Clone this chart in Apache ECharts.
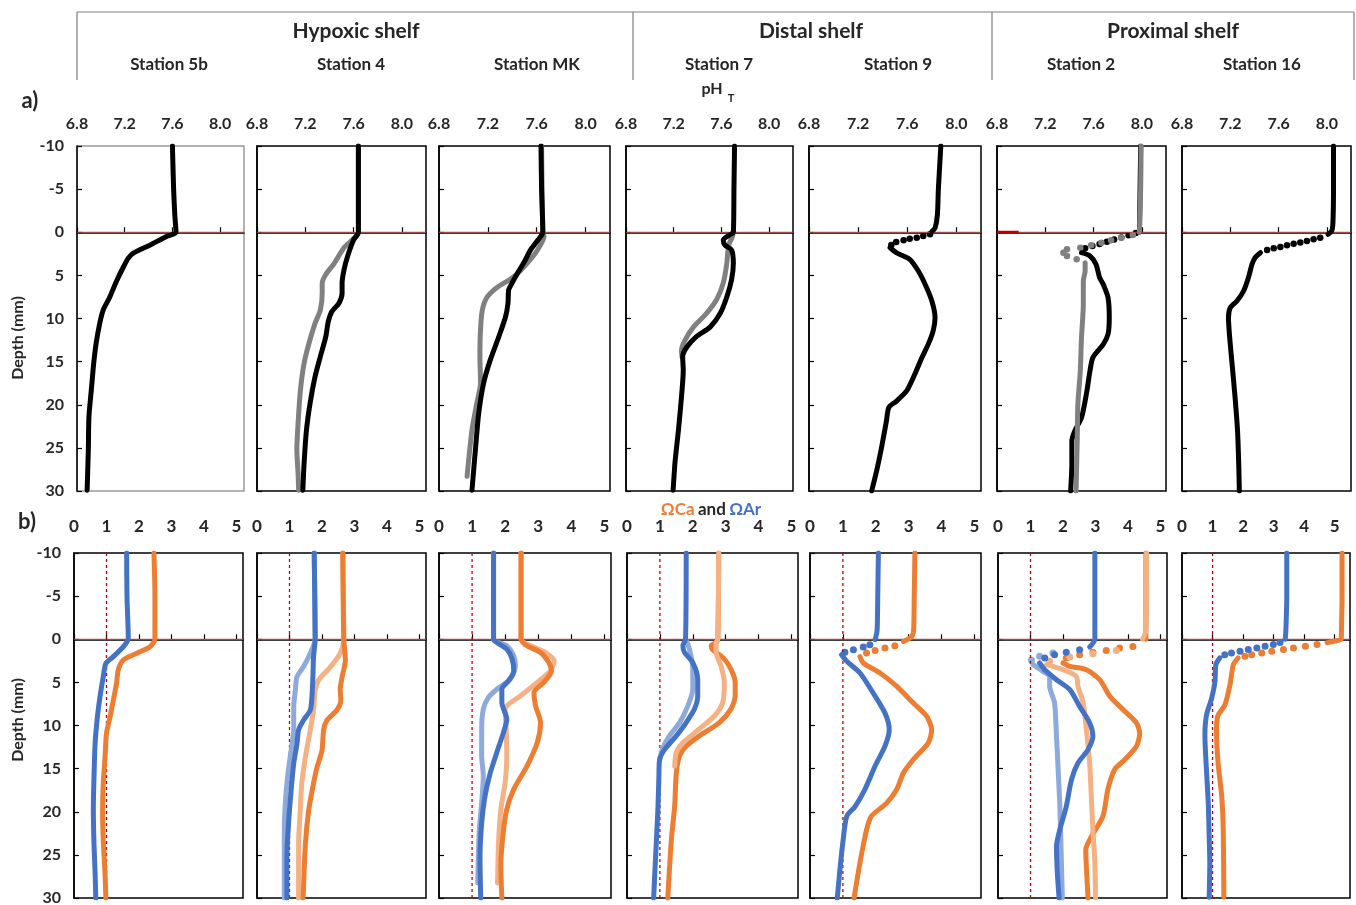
<!DOCTYPE html>
<html>
<head>
<meta charset="utf-8">
<script src="https://cdn.jsdelivr.net/npm/echarts/dist/echarts.min.js"></script>
<style>
html,body{margin:0;padding:0;background:#fff}
#chart{width:1356px;height:905px}
</style>
</head>
<body>
<div id="chart"></div>
<script>
// ---------- station labels ----------
const regions = ['Hypoxic shelf', 'Distal shelf', 'Proximal shelf'];
const stations = ['Station 5b', 'Station 4', 'Station MK', 'Station 7', 'Station 9', 'Station 2', 'Station 16'];

// ---------- axis ranges ----------
const phRange = [6.8, 8.2];
const phStep = 0.4;
const omegaMin = 0;
const omegaMax = [5.2, 5.2, 5.2, 5.2, 5.2, 5.2, 5.5];
const omegaStep = 1;
const depthRange = [-10, 30];
const depthStep = 5;
const SURFACE_DEPTH = 0;      // sediment-water interface
const OMEGA_SATURATION = 1;   // saturation threshold

// ---------- pH_T profiles: [pH, depth mm] ----------
const ph5b = [[7.60,-10],[7.61,-5],[7.62,-2],[7.63,0],[7.55,0.5],[7.41,1.5],[7.27,2.45],[7.23,3.0],[7.19,4.0],[7.13,5.7],[7.075,7.5],[7.02,9.0],[6.99,10.6],[6.96,12.9],[6.94,15.2],[6.92,18.3],[6.90,21.4],[6.895,25.2],[6.885,29.9]];

const ph4 = [[7.64,-10],[7.64,-5],[7.64,0],[7.60,0.9],[7.55,2.8],[7.52,4.4],[7.505,5.9],[7.505,7.05],[7.48,8.2],[7.42,9.2],[7.39,10.4],[7.37,12.1],[7.325,14.4],[7.28,16.8],[7.24,19.8],[7.21,22.9],[7.19,26.8],[7.18,29.9]];
const ph4Rep = [[7.64,-10],[7.64,0],[7.58,1.0],[7.52,1.8],[7.44,3.6],[7.37,4.9],[7.34,5.9],[7.34,7.05],[7.325,9.0],[7.28,10.6],[7.23,12.9],[7.19,15.2],[7.16,18.3],[7.14,22.2],[7.13,25.2],[7.14,27.9],[7.145,29.9]];

const phMK = [[7.635,-10],[7.64,-5],[7.65,0],[7.61,0.9],[7.55,2.05],[7.50,3.4],[7.44,4.8],[7.39,6.1],[7.37,6.7],[7.365,8.2],[7.345,9.8],[7.29,12.1],[7.22,14.8],[7.165,17.5],[7.125,21.0],[7.10,24.9],[7.07,29.9]];
const phMKRep = [[7.64,-10],[7.65,0],[7.66,0.5],[7.63,1.5],[7.58,2.6],[7.47,4.4],[7.39,5.4],[7.28,6.35],[7.195,7.5],[7.155,9.0],[7.14,11.3],[7.135,14.4],[7.14,17.5],[7.11,19.8],[7.07,22.9],[7.04,26.8],[7.03,28.3]];

const ph7 = [[7.71,-10],[7.705,-5],[7.70,0],[7.67,0.3],[7.615,0.9],[7.63,1.5],[7.685,2.05],[7.70,3.6],[7.685,5.5],[7.645,7.5],[7.59,9.4],[7.505,11.0],[7.39,12.1],[7.31,13.3],[7.275,14.4],[7.28,16.0],[7.265,19.1],[7.24,22.9],[7.21,26.8],[7.195,29.9]];
const ph7Rep = [[7.70,0],[7.69,0.6],[7.66,1.5],[7.645,3.6],[7.615,5.9],[7.56,7.8],[7.475,9.4],[7.365,11.0],[7.295,12.5],[7.265,13.7],[7.27,14.5]];

const ph9Top = [[7.873,-10],[7.853,-5],[7.845,-2],[7.826,-0.5],[7.80,-0.1]];
const ph9Dots = [[7.785,0.24],[7.73,0.43],[7.677,0.63],[7.62,0.75],[7.57,0.94],[7.51,1.13],[7.47,1.48]];
const ph9Deep = [[7.46,1.79],[7.51,2.37],[7.62,3.14],[7.69,4.5],[7.745,6.03],[7.80,7.97],[7.826,9.9],[7.81,11.45],[7.77,13.0],[7.72,14.5],[7.66,16.5],[7.595,18.4],[7.51,19.6],[7.45,20.3],[7.43,21.9],[7.39,25.0],[7.35,27.7],[7.31,30.0]];

const ph2Top = [[7.99,-10],[7.98,0]];
const ph2Dots = [[7.95,0.1],[7.89,0.35],[7.83,0.6],[7.77,0.85],[7.71,1.1],[7.65,1.35],[7.59,1.6],[7.53,1.85]];
const ph2Deep = [[7.50,2.37],[7.57,2.75],[7.62,3.7],[7.65,5.27],[7.68,6.04],[7.72,7.59],[7.73,9.9],[7.72,11.8],[7.68,13.0],[7.595,14.5],[7.57,16.1],[7.54,18.8],[7.50,21.5],[7.445,23.0],[7.42,24.2],[7.42,26.9],[7.41,30]];
const ph2RepTop = [[7.994,-10],[7.99,-5],[7.98,0]];
const ph2RepDots = [[7.925,0.32],[7.83,0.63],[7.745,0.94],[7.665,1.21],[7.58,1.52],[7.49,1.79],[7.38,1.98],[7.35,2.37],[7.38,2.75],[7.46,3.14]];
const ph2RepDeep = [[7.53,3.53],[7.53,4.5],[7.515,5.65],[7.515,8.35],[7.50,12.2],[7.49,16.1],[7.47,19.9],[7.465,23.8],[7.455,30]];
const ph2Mark = [[6.8,0],[6.98,0]];

const ph16Top = [[8.055,-10],[8.055,-5],[8.05,-1],[8.04,-0.14],[8.01,0.24]];
const ph16Dots = [[7.945,0.63],[7.89,0.82],[7.835,1.01],[7.78,1.2],[7.725,1.32],[7.67,1.52],[7.615,1.7],[7.56,1.86],[7.505,2.06]];
const ph16Deep = [[7.45,2.37],[7.405,2.95],[7.38,3.72],[7.35,5.27],[7.31,6.81],[7.255,7.97],[7.20,8.75],[7.185,9.9],[7.195,12.2],[7.215,15.3],[7.24,19.2],[7.26,23.0],[7.27,26.9],[7.275,30]];

// ---------- saturation state profiles: [Omega, depth mm] ----------
const ar5b = [[1.62,-10],[1.63,-5],[1.67,-0.1],[1.52,0.86],[1.21,2.02],[0.98,2.8],[0.90,4.35],[0.80,6.67],[0.72,9.0],[0.65,12.1],[0.615,16.0],[0.595,19.85],[0.615,23.7],[0.65,27.2],[0.67,30]];
const ca5b = [[2.46,-10],[2.49,-5],[2.49,0],[2.34,0.86],[1.93,1.63],[1.52,2.4],[1.36,3.57],[1.31,5.1],[1.21,7.06],[1.11,9.0],[1.0,10.9],[0.955,13.65],[0.90,16.7],[0.88,19.85],[0.90,23.3],[0.955,27.2],[0.98,30]];

const ar4 = [[1.76,-10],[1.79,0],[1.74,2.02],[1.72,4.35],[1.69,6.67],[1.64,8.2],[1.43,9.4],[1.28,10.5],[1.23,12.1],[1.13,14.4],[1.05,17.5],[0.97,21.4],[0.92,25.3],[0.92,30]];
const ar4Rep = [[1.76,-10],[1.79,0],[1.64,1.63],[1.43,3.2],[1.23,4.35],[1.18,5.9],[1.13,7.8],[1.13,10.5],[1.02,13.65],[0.94,16.0],[0.87,19.1],[0.84,22.2],[0.84,30]];
const ca4 = [[2.64,-10],[2.67,0],[2.72,2.4],[2.62,4.35],[2.56,5.9],[2.58,7.06],[2.46,8.2],[2.15,9.4],[2.05,10.5],[2.0,12.9],[1.85,14.8],[1.74,16.7],[1.59,19.85],[1.49,23.7],[1.42,30]];
const ca4Rep = [[2.64,-10],[2.67,0],[2.56,1.63],[2.26,3.2],[1.9,4.7],[1.79,5.9],[1.74,8.2],[1.64,10.5],[1.49,13.65],[1.38,16.7],[1.33,19.85],[1.28,23.7],[1.28,30]];

const arMK = [[1.65,-10],[1.65,0],[1.75,0.37],[2.05,1.15],[2.21,2.3],[2.26,3.67],[2.10,4.83],[1.90,5.8],[1.90,7.34],[2.05,9.28],[1.95,10.8],[1.75,13.1],[1.55,15.5],[1.39,18.2],[1.29,21.3],[1.24,25.2],[1.26,30]];
const arMKRep = [[1.65,-10],[1.65,0],[2.05,0.76],[2.26,1.93],[2.31,3.1],[2.16,4.6],[1.75,5.8],[1.49,6.76],[1.34,8.1],[1.29,10.4],[1.29,13.5],[1.34,15.9],[1.29,18.95],[1.22,22.05],[1.19,25.2],[1.17,28.25]];
const caMK = [[2.48,-10],[2.48,0],[2.66,0.76],[3.07,1.54],[3.32,2.7],[3.40,3.67],[3.17,5.0],[2.87,6.2],[2.92,7.73],[3.07,9.66],[2.97,12.0],[2.66,14.7],[2.26,17.4],[2.05,19.7],[1.93,22.8],[1.87,26.3],[1.90,30]];
const caMKRep = [[2.48,-10],[2.48,0],[2.77,0.76],[3.22,1.54],[3.48,2.5],[3.37,3.67],[2.97,5.0],[2.46,6.57],[2.10,7.54],[2.0,8.1],[2.03,10.4],[2.05,13.5],[2.0,16.6],[1.87,19.7],[1.80,23.6],[1.77,28.25]];

const ar7 = [[1.80,-10],[1.78,0],[1.70,0.76],[1.75,1.54],[2.0,2.7],[2.15,4.6],[2.15,6.57],[2.05,8.1],[1.80,9.66],[1.50,11.2],[1.14,12.8],[0.99,14.0],[0.97,15.9],[0.94,19.7],[0.89,23.6],[0.81,30]];
const ar7Rep = [[1.78,0],[1.9,1.15],[2.0,3.47],[2.0,5.8],[1.85,7.73],[1.60,9.66],[1.29,11.2],[1.09,12.6],[0.99,14.0]];
const ca7 = [[2.79,-10],[2.76,0],[2.71,0.37],[2.56,0.76],[2.59,1.15],[2.96,2.3],[3.16,3.47],[3.29,5.0],[3.29,6.57],[3.16,8.1],[2.81,9.66],[2.20,11.2],[1.80,12.4],[1.60,13.5],[1.50,15.5],[1.45,19.3],[1.35,23.2],[1.24,30]];
const ca7Rep = [[2.79,-10],[2.76,0],[2.71,0.37],[2.71,1.54],[2.86,3.1],[2.96,5.0],[2.91,7.34],[2.66,8.9],[2.20,10.4],[1.70,12.0],[1.50,13.1],[1.45,14.7]];

const ar9Top = [[2.08,-10],[2.06,-5],[2.04,-1],[1.98,0.05]];
const ar9Dots = [[1.82,0.63],[1.62,0.9],[1.32,1.21],[1.06,1.52]];
const ar9Deep = [[0.96,1.79],[1.12,2.56],[1.52,3.91],[1.92,6.23],[2.28,8.55],[2.41,10.5],[2.28,12.4],[1.98,14.7],[1.67,17.4],[1.37,19.4],[1.12,20.5],[1.01,23.2],[0.91,26.7],[0.83,30]];
const ca9Top = [[3.19,-10],[3.17,-5],[3.15,-1],[3.09,-0.3],[2.84,0.25]];
const ca9Dots = [[2.58,0.75],[2.28,1.0],[1.98,1.29],[1.72,1.6]];
const ca9Deep = [[1.52,2.0],[1.62,2.75],[2.13,3.91],[2.64,5.46],[3.14,7.39],[3.55,8.94],[3.70,10.5],[3.60,12.0],[3.14,13.96],[2.84,15.5],[2.64,17.4],[2.33,19.0],[1.87,20.5],[1.72,22.1],[1.52,25.9],[1.34,30]];

const ar2Top = [[2.98,-10],[2.98,0],[2.82,0.9]];
const ar2Dots = [[2.51,1.21],[2.10,1.52],[1.74,1.79],[1.44,2.17]];
const ar2Deep = [[1.28,2.75],[1.44,3.53],[1.80,4.69],[2.21,5.85],[2.51,7.78],[2.82,9.7],[2.92,11.26],[2.77,12.8],[2.46,14.35],[2.26,16.3],[2.10,19.4],[1.90,22.1],[1.80,24.0],[1.82,26.7],[1.88,30]];
const ar2RepDots = [[1.69,1.6],[1.28,1.98],[1.03,2.44]];
const ar2RepDeep = [[1.08,2.95],[1.38,3.72],[1.59,4.3],[1.59,5.46],[1.74,7.39],[1.80,11.26],[1.85,15.1],[1.90,19.0],[1.93,22.9],[1.98,30]];
const ca2Top = [[4.55,-10],[4.55,0]];
const ca2Dots = [[4.15,0.83],[3.74,1.02],[3.33,1.29],[2.92,1.52],[2.51,1.79],[2.10,2.17]];
const ca2Deep = [[2.0,2.75],[2.21,3.14],[2.72,3.53],[3.13,4.69],[3.44,6.6],[3.85,8.16],[4.26,9.7],[4.36,10.9],[4.26,12.4],[3.90,13.96],[3.59,15.1],[3.38,17.4],[3.23,20.5],[2.87,22.9],[2.70,24.4],[2.74,27.9],[2.77,30]];
const ca2RepTop = [[4.57,-10],[4.57,-5],[4.55,-1],[4.45,0]];
const ca2RepDots = [[3.64,1.29],[2.92,1.67],[2.21,2.06],[1.59,2.56]];
const ca2RepDeep = [[1.49,2.95],[2.0,3.53],[2.41,4.3],[2.46,5.46],[2.62,7.39],[2.72,10.5],[2.82,14.35],[2.87,18.2],[2.92,22.1],[2.98,25.9],[3.0,30]];

const ar16Top = [[3.43,-10],[3.43,-5],[3.40,-1],[3.38,0]];
const ar16Dots = [[3.21,0.39],[2.99,0.6],[2.72,0.8],[2.45,1.0],[2.17,1.2],[1.90,1.39],[1.62,1.59],[1.40,1.8]];
const ar16Deep = [[1.24,2.15],[1.11,2.94],[1.08,4.9],[0.97,6.86],[0.80,8.82],[0.75,11.2],[0.80,15.1],[0.86,19.0],[0.89,22.9],[0.91,25.9],[0.89,29.9]];
const ca16Top = [[5.24,-10],[5.24,-5],[5.22,-1],[5.21,0],[5.02,0.2],[4.75,0.39]];
const ca16Dots = [[4.42,0.6],[4.04,0.8],[3.65,1.0],[3.32,1.2],[2.94,1.39],[2.61,1.59],[2.28,1.8],[2.06,1.98]];
const ca16Deep = [[1.84,2.15],[1.68,2.94],[1.57,5.3],[1.40,7.65],[1.18,8.82],[1.13,10.4],[1.18,14.3],[1.30,18.2],[1.35,22.1],[1.37,29.9]];

// ---------- colours & layout ----------
const BLACK = '#000000', GRAY = '#808080';
const AR = '#4472C4', AR_LIGHT = '#8EA9DB';
const CA = '#ED7D31', CA_LIGHT = '#F4B183';
const FONT = 'Lato, "Open Sans", "DejaVu Sans", sans-serif';
const TEXT = '#262626';

const PH_TOP = 146, OM_TOP = 553, PANEL_H = 345;
const phCols = [[77,244],[257,426],[439,610],[626,793],[809,981],[997,1166],[1182,1351]];
const omCols = [[74,243],[257,426],[439,611],[627,798],[810,981],[998,1167],[1182,1350]];

// which profiles go in which panel (draw order = list order)
const L = (d, c) => ({ d, c, dots: false });
const D = (d, c) => ({ d, c, dots: true });
const phPanels = [
  [L(ph5b, BLACK)],
  [L(ph4Rep, GRAY), L(ph4, BLACK)],
  [L(phMKRep, GRAY), L(phMK, BLACK)],
  [L(ph7Rep, GRAY), L(ph7, BLACK)],
  [L(ph9Top, BLACK), D(ph9Dots, BLACK), L(ph9Deep, BLACK)],
  [L(ph2Top, BLACK), D(ph2Dots, BLACK), L(ph2Deep, BLACK), L(ph2RepTop, GRAY), D(ph2RepDots, GRAY), L(ph2RepDeep, GRAY)],
  [L(ph16Top, BLACK), D(ph16Dots, BLACK), L(ph16Deep, BLACK)]
];
const omPanels = [
  [L(ca5b, CA), L(ar5b, AR)],
  [L(ca4Rep, CA_LIGHT), L(ca4, CA), L(ar4Rep, AR_LIGHT), L(ar4, AR)],
  [L(caMKRep, CA_LIGHT), L(caMK, CA), L(arMKRep, AR_LIGHT), L(arMK, AR)],
  [L(ca7, CA), L(ca7Rep, CA_LIGHT), L(ar7Rep, AR_LIGHT), L(ar7, AR)],
  [L(ca9Top, CA), D(ca9Dots, CA), L(ca9Deep, CA), L(ar9Top, AR), D(ar9Dots, AR), L(ar9Deep, AR)],
  [L(ca2Top, CA), D(ca2Dots, CA), L(ca2Deep, CA), L(ca2RepTop, CA_LIGHT), D(ca2RepDots, CA_LIGHT), L(ca2RepDeep, CA_LIGHT),
   D(ar2RepDots, AR_LIGHT), L(ar2RepDeep, AR_LIGHT), L(ar2Top, AR), D(ar2Dots, AR), L(ar2Deep, AR)],
  [L(ca16Top, CA), D(ca16Dots, CA), L(ca16Deep, CA), L(ar16Top, AR), D(ar16Dots, AR), L(ar16Deep, AR)]
];

const grids = [], xAxes = [], yAxes = [], series = [];
const labelStyle = { fontFamily: FONT, fontWeight: 'bold', color: TEXT };

function addPanel(row, col) {
  const gi = grids.length;
  const [l, r] = row === 0 ? phCols[col] : omCols[col];
  const isPh = row === 0;
  const xMin = isPh ? phRange[0] : omegaMin;
  const xMax = isPh ? phRange[1] : omegaMax[col];
  grids.push({
    left: l, top: isPh ? PH_TOP : OM_TOP, width: r - l, height: PANEL_H,
    show: true, backgroundColor: 'transparent',
    borderColor: (isPh && col === 0) ? '#9a9a9a' : '#000', borderWidth: 1.5,
    containLabel: false, outerBoundsMode: 'none'
  });
  xAxes.push({
    gridIndex: gi, type: 'value', position: 'top',
    min: xMin, max: xMax, interval: isPh ? phStep : omegaStep,
    axisLine: { show: true, lineStyle: { color: '#000', width: 1.5 } },
    axisTick: { show: true, length: 5, lineStyle: { color: '#000', width: 1.2 } },
    splitLine: { show: false },
    axisLabel: Object.assign({}, labelStyle, {
      showMaxLabel: false, showMinLabel: true,
      margin: isPh ? 14 : 18, fontSize: isPh ? 16 : 17,
      formatter: v => isPh ? Number(v).toFixed(1) : String(Math.round(v))
    })
  });
  yAxes.push({
    gridIndex: gi, type: 'value', inverse: true,
    min: depthRange[0], max: depthRange[1], interval: depthStep,
    axisLine: { show: true, lineStyle: { color: '#000', width: 1.5 } },
    axisTick: { show: true, inside: true, length: 5, lineStyle: { color: '#000', width: 1.2 } },
    splitLine: { show: false },
    axisLabel: Object.assign({}, labelStyle, { show: col === 0, margin: 13, fontSize: 16 })
  });

  // sediment-water interface
  series.push({
    type: 'line', xAxisIndex: gi, yAxisIndex: gi, silent: true, symbol: 'none',
    data: [[xMin, SURFACE_DEPTH], [xMax, SURFACE_DEPTH]],
    lineStyle: { color: '#C0504D', width: 1 }
  });
  if (!isPh) {
    series.push({
      type: 'line', xAxisIndex: gi, yAxisIndex: gi, silent: true, symbol: 'none',
      data: [[OMEGA_SATURATION, depthRange[0]], [OMEGA_SATURATION, depthRange[1]]],
      lineStyle: { color: '#C00000', width: 1.3, type: [3, 3] }
    });
  }
  if (isPh && col === 5) {
    series.push({
      type: 'line', xAxisIndex: gi, yAxisIndex: gi, silent: true, symbol: 'none',
      data: ph2Mark, lineStyle: { color: '#C00000', width: 3 }
    });
  }

  const profiles = isPh ? phPanels[col] : omPanels[col];
  profiles.forEach(p => {
    if (p.dots) {
      series.push({
        type: 'scatter', xAxisIndex: gi, yAxisIndex: gi, silent: true,
        data: p.d, symbol: 'circle', symbolSize: isPh ? 6.5 : 7,
        itemStyle: { color: p.c, opacity: 1 }
      });
    } else {
      series.push({
        type: 'line', xAxisIndex: gi, yAxisIndex: gi, silent: true,
        data: p.d, symbol: 'none', smooth: 0.25,
        lineStyle: { color: p.c, width: 5, cap: 'round', join: 'round', opacity: 1 }
      });
    }
  });
}

for (let row = 0; row < 2; row++) for (let col = 0; col < 7; col++) addPanel(row, col);

// ---------- header, row tags, axis titles ----------
const hdrStroke = { stroke: '#7f7f7f', lineWidth: 1.2 };
const graphic = [
  { type: 'line', shape: { x1: 77, y1: 12, x2: 1354, y2: 12 }, style: hdrStroke },
  ...[77, 633, 992, 1354].map(x => ({ type: 'line', shape: { x1: x, y1: 12, x2: x, y2: 80 }, style: hdrStroke })),
  ...regions.map((t, i) => ({
    type: 'text', x: [356, 811, 1173][i], y: 31,
    style: { text: t, font: 'bold 21px ' + FONT, fill: TEXT, align: 'center', verticalAlign: 'middle' }
  })),
  ...stations.map((t, i) => ({
    type: 'text', x: [169, 351, 537, 719, 898, 1081, 1262][i], y: 65,
    style: { text: t, font: 'bold 17px ' + FONT, fill: TEXT, align: 'center', verticalAlign: 'middle' }
  })),
  { type: 'text', x: 30, y: 101, style: { text: 'a)', font: 'bold 22px ' + FONT, fill: TEXT, align: 'center', verticalAlign: 'middle' } },
  { type: 'text', x: 27, y: 522, style: { text: 'b)', font: 'bold 22px ' + FONT, fill: TEXT, align: 'center', verticalAlign: 'middle' } },
  { type: 'text', x: 712, y: 89, style: { text: 'pH', font: 'bold 16px ' + FONT, fill: TEXT, align: 'center', verticalAlign: 'middle' } },
  { type: 'text', x: 731, y: 98, style: { text: 'T', font: 'bold 11px ' + FONT, fill: TEXT, align: 'center', verticalAlign: 'middle' } },
  { type: 'text', x: 711, y: 510, style: {
      text: '{o|ΩCa} {k|and} {b|ΩAr}', align: 'center', verticalAlign: 'middle',
      rich: {
        o: { font: 'bold 17px ' + FONT, fill: CA },
        k: { font: 'bold 17px ' + FONT, fill: TEXT },
        b: { font: 'bold 17px ' + FONT, fill: AR }
      } } },
  { type: 'text', x: 18, y: 338, rotation: Math.PI / 2, style: { text: 'Depth (mm)', font: 'bold 16px ' + FONT, fill: TEXT, align: 'center', verticalAlign: 'middle' } },
  { type: 'text', x: 18, y: 720, rotation: Math.PI / 2, style: { text: 'Depth (mm)', font: 'bold 16px ' + FONT, fill: TEXT, align: 'center', verticalAlign: 'middle' } }
];

const chart = echarts.init(document.getElementById('chart'), null, { renderer: 'canvas' });
chart.setOption({
  animation: false,
  backgroundColor: '#fff',
  textStyle: { fontFamily: FONT },
  grid: grids,
  xAxis: xAxes,
  yAxis: yAxes,
  series: series,
  graphic: graphic
});
</script>
</body>
</html>
